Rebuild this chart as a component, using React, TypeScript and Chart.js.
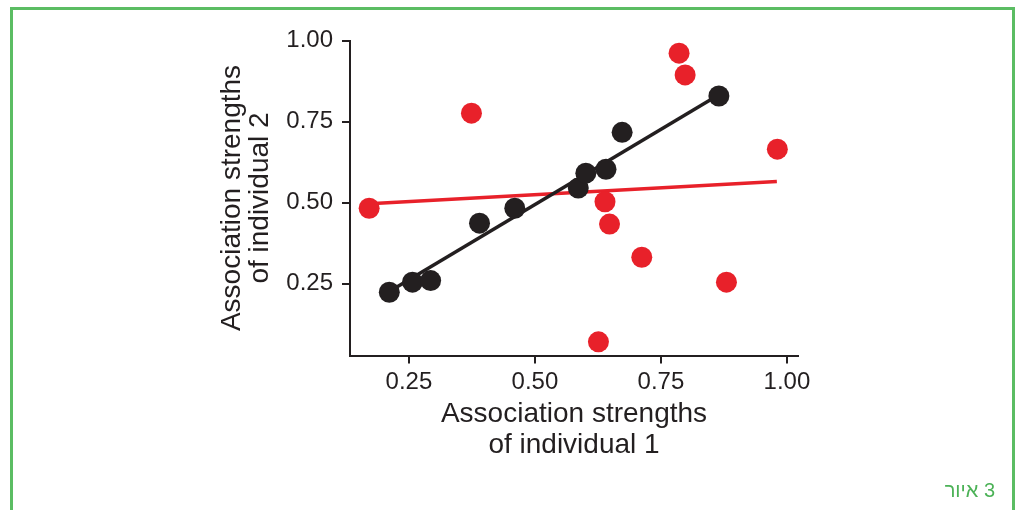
import React, { useEffect, useRef } from "react";
import { Chart, registerables } from "chart.js";

Chart.register(...registerables);

// ---- Data ----
const blackIndividual1 = [0.211, 0.257, 0.293, 0.39, 0.46, 0.586, 0.601, 0.641, 0.673, 0.865];
const blackIndividual2 = [0.224, 0.255, 0.26, 0.437, 0.483, 0.545, 0.591, 0.603, 0.717, 0.829];

const redIndividual1 = [0.171, 0.374, 0.786, 0.798, 0.981, 0.639, 0.648, 0.712, 0.88, 0.626];
const redIndividual2 = [0.483, 0.776, 0.961, 0.894, 0.665, 0.503, 0.434, 0.332, 0.255, 0.071];

const blackFitX = [0.211, 0.865];
const blackFitY = [0.226, 0.833];
const redFitX = [0.171, 0.98];
const redFitY = [0.497, 0.565];

const xTickValues = [0.25, 0.5, 0.75, 1.0];
const yTickValues = [0.25, 0.5, 0.75, 1.0];

const xTitle = ["Association strengths", "of individual 1"];
const yTitle = ["Association strengths", "of individual 2"];
const captionParts = ["איור", "3"];

// ---- Styles ----
const INK = "#231f20";
const RED = "#e8212a";
const GREEN = "#5bbd63";
const FAMILY = "'Liberation Sans', Arial, Helvetica, sans-serif";

const toPoints = (xs: number[], ys: number[]) => xs.map((x, i) => ({ x, y: ys[i] }));

export default function App() {
  const canvasRef = useRef<HTMLCanvasElement | null>(null);

  useEffect(() => {
    const canvas = canvasRef.current;
    if (!canvas) return;
    const chart = new Chart(canvas, {
      type: "scatter",
      data: {
        datasets: [
          {
            label: "black",
            data: toPoints(blackIndividual1, blackIndividual2),
            backgroundColor: INK,
            borderWidth: 0,
            pointRadius: 10.5,
            pointHoverRadius: 10.5,
          },
          {
            label: "red",
            data: toPoints(redIndividual1, redIndividual2),
            backgroundColor: RED,
            borderWidth: 0,
            pointRadius: 10.5,
            pointHoverRadius: 10.5,
          },
          {
            label: "black fit",
            data: toPoints(blackFitX, blackFitY),
            showLine: true,
            borderColor: INK,
            borderWidth: 3.5,
            pointRadius: 0,
            pointHoverRadius: 0,
          },
          {
            label: "red fit",
            data: toPoints(redFitX, redFitY),
            showLine: true,
            borderColor: RED,
            borderWidth: 3.5,
            pointRadius: 0,
            pointHoverRadius: 0,
          },
        ],
      },
      options: {
        animation: false,
        responsive: false,
        devicePixelRatio: 1,
        layout: { padding: { left: 200, right: 223, top: 40.5, bottom: 34.5 } },
        plugins: {
          legend: { display: false },
          tooltip: { enabled: false },
        },
        scales: {
          x: {
            type: "linear",
            min: 0.133,
            max: 1.022,
            afterBuildTicks: (s: any) => {
              s.ticks = xTickValues.map((v) => ({ value: v }));
            },
            afterFit: (s: any) => {
              s.height = 120;
            },
            ticks: {
              callback: (v: any) => Number(v).toFixed(2),
              font: { family: FAMILY, size: 24 },
              color: INK,
              padding: 4,
              maxRotation: 0,
              autoSkip: false,
            },
            grid: {
              display: true,
              drawOnChartArea: false,
              drawTicks: true,
              tickLength: 8,
              color: INK,
              lineWidth: 2,
            },
            border: { display: true, color: INK, width: 2 },
            title: {
              display: true,
              text: xTitle,
              color: INK,
              font: { family: FAMILY, size: 28, lineHeight: 31 / 28 },
              padding: { top: 0, bottom: 15 },
            },
          },
          y: {
            type: "linear",
            min: 0.029,
            max: 1.0,
            afterBuildTicks: (s: any) => {
              s.ticks = yTickValues.map((v) => ({ value: v }));
            },
            afterFit: (s: any) => {
              s.width = 150;
            },
            ticks: {
              callback: (v: any) => Number(v).toFixed(2),
              font: { family: FAMILY, size: 24 },
              color: INK,
              padding: 9,
              autoSkip: false,
            },
            grid: {
              display: true,
              drawOnChartArea: false,
              drawTicks: true,
              tickLength: 8,
              color: INK,
              lineWidth: 2,
            },
            border: { display: true, color: INK, width: 2 },
            title: {
              display: true,
              text: yTitle,
              color: INK,
              font: { family: FAMILY, size: 28, lineHeight: 28 / 28 },
              padding: { top: 18, bottom: 0 },
            },
          },
        },
      },
    } as any);
    return () => chart.destroy();
  }, []);

  return (
    <div
      style={{
        position: "absolute",
        left: 0,
        top: 0,
        width: 1021,
        height: 510,
        overflow: "hidden",
        background: "#ffffff",
      }}
    >
      <div
        style={{
          position: "absolute",
          left: 10,
          top: 7,
          width: 1005,
          height: 540,
          boxSizing: "border-box",
          border: `3px solid ${GREEN}`,
          borderBottom: "none",
        }}
      />
      <canvas
        ref={canvasRef}
        width={1021}
        height={510}
        style={{ position: "absolute", left: 0, top: 0, width: 1021, height: 510 }}
      />
      <div
        dir="ltr"
        style={{
          position: "absolute",
          right: 26,
          top: 480,
          fontFamily: FAMILY,
          fontSize: 20,
          lineHeight: "20px",
          color: "#4cb257",
          whiteSpace: "nowrap",
        }}
      >
        <span style={{ display: "inline-block" }}>{captionParts[0]}</span>
        {"\u00A0"}
        <span style={{ display: "inline-block" }}>{captionParts[1]}</span>
      </div>
    </div>
  );
}
